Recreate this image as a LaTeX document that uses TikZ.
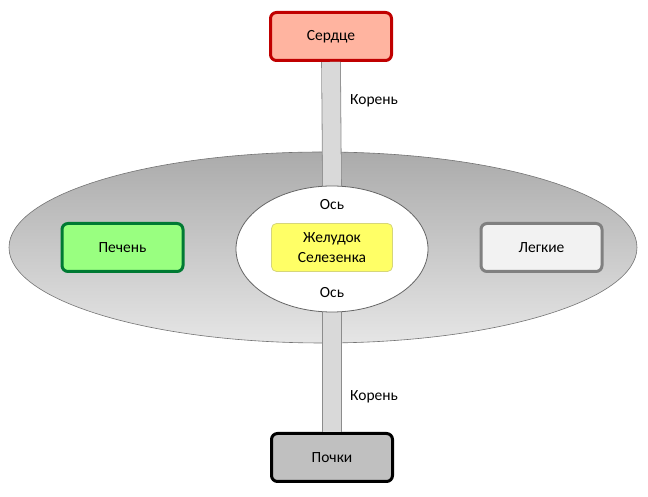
\documentclass[tikz,border=0pt]{standalone}
\usepackage{fontspec}
\setmainfont{Carlito}
\usetikzlibrary{shapes.geometric}
\definecolor{heartfill}{HTML}{FFB4A0}
\definecolor{heartdraw}{HTML}{C00000}
\definecolor{liverfill}{HTML}{99FF80}
\definecolor{liverdraw}{HTML}{007A33}
\definecolor{lungfill}{HTML}{F2F2F2}
\definecolor{lungdraw}{HTML}{808080}
\definecolor{stomfill}{HTML}{FFFF66}
\definecolor{stomdraw}{HTML}{D6D67A}
\definecolor{kidfill}{HTML}{C0C0C0}
\definecolor{barfill}{HTML}{D9D9D9}
\definecolor{bardraw}{HTML}{8C8C8C}
\begin{document}
\begin{tikzpicture}[x=1pt,y=1pt,
  organ/.style={rectangle, rounded corners=6pt, minimum width=121pt, minimum height=48pt,
    line width=3pt, font=\fontsize{15.5}{20}\selectfont, align=center, inner sep=0pt},
  lbl/.style={font=\fontsize{15.5}{20}\selectfont, inner sep=0pt},
  bar/.style={draw=bardraw, line width=0.8pt, double=barfill, double distance=18pt}
]
\useasboundingbox (0,0) rectangle (648,497);
% big ellipse
\node[ellipse, minimum width=628pt, minimum height=191pt, inner sep=0pt,
  draw=gray!90!black, line width=0.6pt, top color=black!33, bottom color=black!10]
  (outer) at (323,249.5) {};
% nodes
\node[organ, draw=heartdraw, fill=heartfill] (heart) at (331,460.5) {Сердце};
\node[organ, draw=black, fill=kidfill] (kid) at (332,39.5) {Почки};
\coordinate (innertop) at (332,311);
\coordinate (innerbot) at (332,185);
\draw[bar] (heart.south) -- (innertop);
\draw[bar] (innerbot) -- (kid.north);
\node[ellipse, minimum width=192pt, minimum height=126pt, inner sep=0pt,
  draw=gray!80!black, line width=0.8pt, fill=white] (inner) at (332,248) {};
\node[organ, draw=liverdraw, fill=liverfill] (liver) at (122.5,249.5) {Печень};
\node[organ, draw=lungdraw, fill=lungfill] (lung) at (541.5,249.5) {Легкие};
\node[organ, draw=stomdraw, line width=0.8pt, fill=stomfill, rounded corners=5pt] (stom) at (332,249.5)
  {Желудок\\Селезенка};
% labels
\node[lbl] (os1) at (332,292) {Ось};
\node[lbl] (os2) at (332,204) {Ось};
\node[lbl, anchor=west] (root1) at (350,396) {Корень};
\node[lbl, anchor=west] (root2) at (350,100) {Корень};
\end{tikzpicture}
\end{document}
